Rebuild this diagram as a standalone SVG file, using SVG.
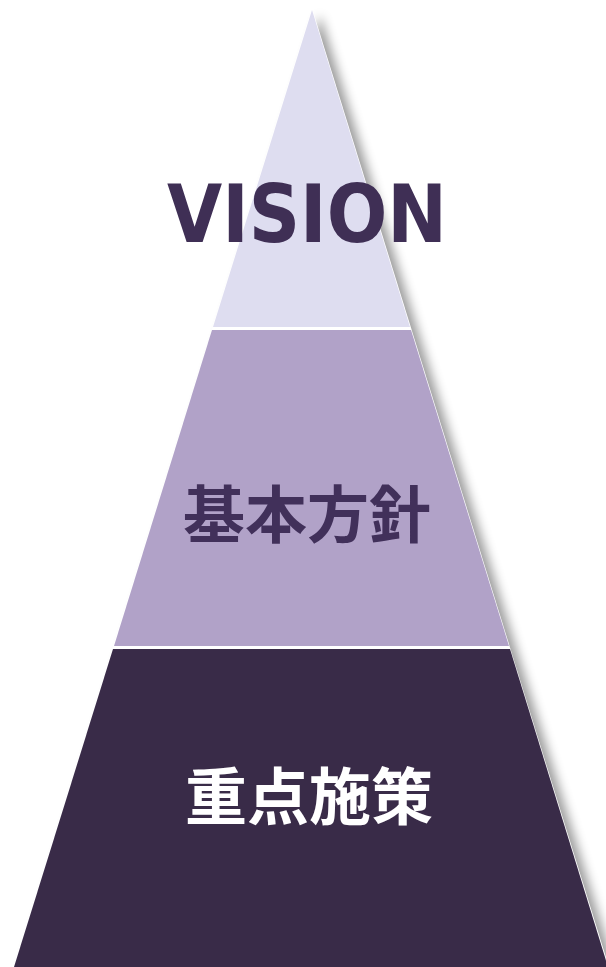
<svg xmlns="http://www.w3.org/2000/svg" width="606" height="967" viewBox="0 0 606 967">
<defs>
<filter id="sh" x="-10%" y="-10%" width="130%" height="130%">
<feGaussianBlur in="SourceAlpha" stdDeviation="5.5"/>
<feOffset dx="8" dy="5"/>
<feComponentTransfer><feFuncA type="linear" slope="0.4"/></feComponentTransfer>
</filter>
</defs>
<style>
.t{font-weight:bold;text-anchor:middle}
.cjk{font-family:"Noto Sans CJK JP","Noto Sans CJK SC",sans-serif;font-size:62px}
</style>
<rect width="606" height="967" fill="#ffffff"/>
<polygon points="312,10 608,967 14,967" fill="#000" filter="url(#sh)"/>
<polygon points="312,8 609,967 13,967" fill="#ffffff"/>
<g id="vision">
<polygon points="312,10 410,327 213,327" fill="#DEDDF0"/>
<text class="t" x="307" y="242" font-family="'DejaVu Sans',Verdana,sans-serif" font-size="80" textLength="280" lengthAdjust="spacingAndGlyphs" fill="#3F2F55">VISION</text>
</g>
<g id="kihon">
<polygon points="212,330 411,330 509,646 114,646" fill="#B1A2C8"/>
<text class="t cjk" x="307" y="538" fill="#41305A">基本方針</text>
</g>
<g id="juten">
<polygon points="113,649 510,649 608,967 14,967" fill="#392B48"/>
<text class="t cjk" x="309" y="820" fill="#FFFFFF">重点施策</text>
</g>
</svg>
